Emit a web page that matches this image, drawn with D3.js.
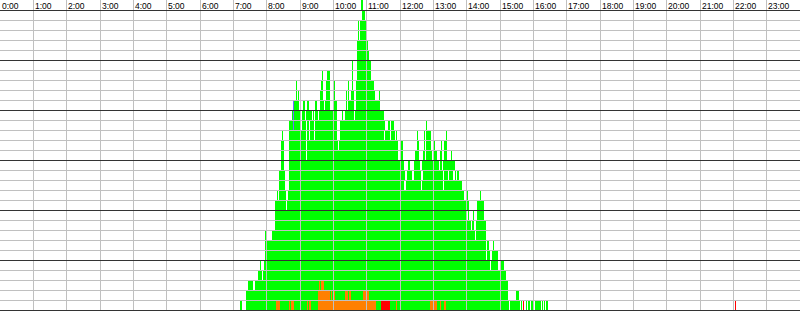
<!DOCTYPE html>
<html>
<head>
<meta charset="utf-8">
<script src="https://cdn.jsdelivr.net/npm/d3@7/dist/d3.min.js"></script>
<style>
  body { margin: 0; background: #fff; }
  svg { display: block; }
</style>
</head>
<body>
<div id="chart"></div>
<script>
// hour labels across the top
var hourLabels = d3.range(24).map(function(h){ return h + ":00"; });

// occupied intervals per slot, minutes of the day, slot 1 (bottom) first
var slots = [
  [[432,436],[443,916],[918,936],[938,940],[941,943],[947,949],[950,954],[956,961],[963,974],[976,977],[979,981],[983,986]],
  [[443,914],[929,934]],
  [[446,455],[459,914]],
  [[464,472],[473,911]],
  [[468,470],[475,882],[884,896],[900,907]],
  [[477,875],[877,882],[886,896]],
  [[477,479],[481,875],[877,880],[887,889]],
  [[477,479],[490,855],[857,875]],
  [[495,848],[850,853],[857,875]],
  [[495,841],[842,844],[851,853],[859,871]],
  [[495,515],[517,839],[841,844],[859,871]],
  [[499,500],[502,515],[518,835],[841,842],[864,866]],
  [[502,513],[520,727],[731,758],[760,797],[799,832]],
  [[502,513],[520,729],[733,742],[745,758],[761,797],[799,806],[808,815],[819,821],[823,826]],
  [[506,511],[520,727],[734,738],[745,756],[760,790],[792,796],[797,819]],
  [[506,511],[520,551],[553,716],[722,725],[747,754],[761,765],[767,778],[781,787],[792,796],[799,805],[812,814]],
  [[506,511],[520,551],[553,608],[610,716],[722,725],[751,754],[763,765],[767,776],[781,783],[794,796],[799,805]],
  [[508,509],[520,551],[553,556],[558,565],[567,607],[612,691],[693,702],[704,711],[713,715],[751,752],[763,765],[767,776],[803,805]],
  [[520,542],[544,551],[553,556],[558,565],[567,607],[612,693],[698,702],[704,709],[767,769]],
  [[526,542],[544,549],[551,562],[563,565],[567,572],[574,607],[616,617],[621,637],[639,691]],
  [[529,538],[545,549],[553,556],[567,571],[576,583],[585,594],[599,607],[623,625],[626,637],[641,684]],
  [[533,535],[536,538],[576,581],[587,594],[599,603],[623,625],[626,628],[632,637],[641,675],[682,684]],
  [[533,535],[578,581],[587,594],[599,603],[626,628],[634,635],[641,673]],
  [[580,581],[589,594],[634,635],[643,668]],
  [[634,635],[643,668]],
  [[643,664]],
  [[643,662]],
  [[644,646],[648,659]],
  [[644,646],[648,659]],
  [[652,657]],
  [[650,653]]
];

// [slot, start, end]
var orangeCells = [
  [1,497,504],[1,520,522],[1,524,529],[1,553,555],[1,557,560],[1,572,677],[1,713,715],
  [1,774,779],[1,781,787],[1,792,794],[1,799,803],
  [2,572,594],[2,596,598],[2,599,603],[2,621,626],[2,628,632],[2,653,664],
  [3,574,576],[3,578,583]
];
var redCells = [[1,686,702],[1,941,943],[1,1323,1325]];
var blueCells = [[19,527,529],[20,527,529],[21,527,529]];

var width = 800, height = 311;
var rowCount = 30;

var svg = d3.select("#chart").append("svg")
    .attr("width", width)
    .attr("height", height)
    .attr("shape-rendering", "crispEdges");

var x = d3.scaleLinear().domain([0, 1440]).range([0, width]);
var y = d3.scaleLinear().domain([0, rowCount]).range([310, 10]);

function cellRects(g, cells, color){
    g.selectAll(null)
        .data(cells)
        .enter().append("rect")
        .attr("x", function(d){ return Math.round(x(d[1])); })
        .attr("y", function(d){ return y(d[0]); })
        .attr("width", function(d){ return Math.max(1, Math.round(x(d[2])) - Math.round(x(d[1]))); })
        .attr("height", function(d){ return y(d[0] - 1) - y(d[0]); })
        .attr("fill", color);
}

var bars = svg.append("g");
var busyCells = [];
slots.forEach(function(list, i){
    list.forEach(function(iv){ busyCells.push([i + 1, iv[0], iv[1]]); });
});
cellRects(bars, busyCells, "#00ff00");
cellRects(bars, orangeCells, "#ff8000");
cellRects(bars, redCells, "#ff0000");
cellRects(bars, blueCells, "#6b6bff");

var grid = svg.append("g");

grid.selectAll(".vline")
    .data(d3.range(1, 24))
    .enter().append("line")
    .attr("x1", function(h){ return Math.floor(x(h * 60)) + 0.5; })
    .attr("x2", function(h){ return Math.floor(x(h * 60)) + 0.5; })
    .attr("y1", 0)
    .attr("y2", 310)
    .attr("stroke", "#c0c0c0");

grid.selectAll(".hline")
    .data(d3.range(0, rowCount + 1))
    .enter().append("line")
    .attr("x1", 0)
    .attr("x2", width)
    .attr("y1", function(v){ return y(v) + 0.5; })
    .attr("y2", function(v){ return y(v) + 0.5; })
    .attr("stroke", function(v){ return v % 5 == 0 ? "#333333" : "#c0c0c0"; });

svg.append("g").selectAll("text")
    .data(hourLabels)
    .enter().append("text")
    .attr("x", function(d, i){ return Math.floor(x(i * 60)) + 2; })
    .attr("y", 9)
    .attr("font-family", "'Liberation Sans', Arial, sans-serif")
    .attr("font-size", "8.5px")
    .attr("fill", "#000")
    .text(function(d){ return d; });
</script>
</body>
</html>
